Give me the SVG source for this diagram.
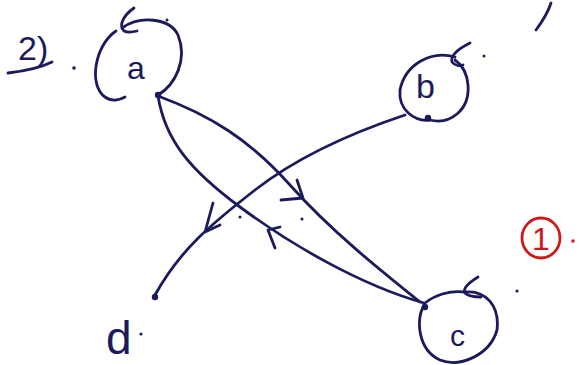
<svg xmlns="http://www.w3.org/2000/svg" width="586" height="365" viewBox="0 0 586 365">
<style>
.ink{fill:none;stroke:#1b1b5c;stroke-width:2.8;stroke-linecap:round;stroke-linejoin:round}
.dot{fill:#1b1b5c}
.lbl{font-family:"Liberation Sans",Arial,sans-serif;fill:#1b1b5c}
.red{fill:none;stroke:#d01818;stroke-width:2.8}
</style>
<rect width="586" height="365" fill="#ffffff"/>
<g id="title">
<text class="lbl" x="18" y="60" font-size="34">2)</text>
<path class="ink" d="M8,73 C25,71 40,68 52,62"/>
<circle class="dot" cx="74" cy="68" r="1.8"/>
</g>
<g id="mark">
<path class="ink" d="M536,30 C542,22 548,12 551,3"/>
</g>
<g id="node-a">
<path class="ink" d="M116,31 C95,45 88,85 105,97 C112,102 120,100 125,97"/>
<path class="ink" d="M122,28 C140,15 170,18 178,35 C188,60 175,85 158,95"/>
<path class="ink" d="M134,8 C124,15 118,25 124,31 C128,33 133,32 137,31"/>
<circle class="dot" cx="167" cy="20" r="1.5"/>
<circle class="dot" cx="158" cy="95" r="3.2"/>
<text class="lbl" x="127" y="79" font-size="32">a</text>
</g>
<g id="node-b">
<path class="ink" d="M455,57 C430,50 405,65 400,90 C398,110 415,122 430,120 C450,125 470,110 468,85 C467,72 462,65 455,60"/>
<path class="ink" d="M470,43 C460,48 450,55 452,62 C455,66 460,66 463,65"/>
<circle class="dot" cx="428" cy="118" r="3.2"/>
<circle class="dot" cx="484" cy="56" r="1.5"/>
<text class="lbl" x="416" y="98" font-size="34">b</text>
</g>
<g id="node-c">
<path class="ink" d="M425,303 C415,320 418,350 440,360 C460,368 490,355 497,330 C500,305 485,290 465,292 C450,290 435,295 425,303"/>
<path class="ink" d="M478,277 C470,282 462,288 465,293 C468,296 474,297 481,297"/>
<circle class="dot" cx="425" cy="307" r="3.2"/>
<circle class="dot" cx="517" cy="291" r="1.6"/>
<text class="lbl" x="450" y="346" font-size="30">c</text>
</g>
<g id="node-d">
<circle class="dot" cx="155" cy="297" r="3.2"/>
<text class="lbl" x="106" y="354" font-size="46">d</text>
<circle class="dot" cx="141" cy="334" r="1.6"/>
</g>
<g id="badge">
<ellipse class="red" cx="541" cy="238" rx="19" ry="20"/>
<text x="532" y="250" font-size="32" font-family="Liberation Sans,Arial,sans-serif" fill="#d01818">1</text>
<circle cx="573" cy="241" r="1.8" fill="#d01818"/>
</g>
<g id="connectors">
<path class="ink" d="M158,96 C210,115 250,140 290,185 S380,270 420,302"/>
<path class="ink" d="M158,96 C165,140 190,170 240,207 S360,285 424,303"/>
<path class="ink" d="M405,115 C360,130 300,155 255,190 S180,250 155,295"/>
<path class="ink" d="M297,180 L303,198 L281,200"/>
<path class="ink" d="M213,203 L205,232 L220,225"/>
<path class="ink" d="M280,227 L268,230 L275,248"/>
<circle class="dot" cx="240" cy="217" r="1.5"/>
<circle class="dot" cx="302" cy="219" r="1.5"/>
</g>
</svg>
